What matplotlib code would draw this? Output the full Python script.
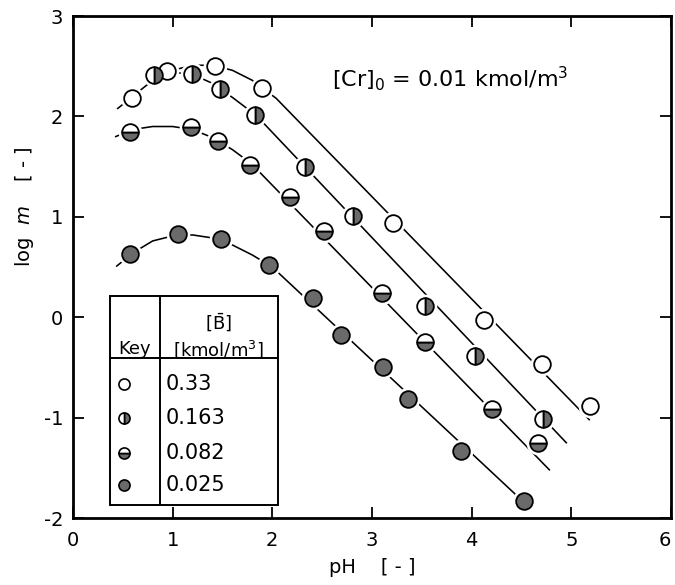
import matplotlib
matplotlib.use('Agg')
import matplotlib.pyplot as plt
from matplotlib.patches import Rectangle

plt.rcParams['font.family'] = ['DejaVu Sans']
plt.rcParams['axes.unicode_minus'] = False

# measured points: pH and log m for each [B] concentration
ph_033 = [0.59, 0.94, 1.43, 1.90, 3.21, 4.12, 4.71, 5.19]
lm_033 = [2.18, 2.45, 2.50, 2.28, 0.94, -0.03, -0.47, -0.88]

ph_0163 = [0.81, 1.19, 1.48, 1.83, 2.33, 2.81, 3.53, 4.03, 4.72]
lm_0163 = [2.41, 2.42, 2.27, 2.01, 1.50, 1.01, 0.11, -0.39, -1.01]

ph_0082 = [0.57, 1.18, 1.46, 1.78, 2.18, 2.52, 3.10, 3.53, 4.20, 4.67]
lm_0082 = [1.85, 1.90, 1.76, 1.52, 1.20, 0.86, 0.24, -0.25, -0.91, -1.25]

ph_0025 = [0.57, 1.05, 1.49, 1.97, 2.41, 2.69, 3.11, 3.36, 3.89, 4.53]
lm_0025 = [0.63, 0.83, 0.78, 0.52, 0.19, -0.18, -0.50, -0.81, -1.33, -1.83]

# fitted curves
fit_033_ph = [0.45, 0.6, 0.8, 1.0, 1.2, 1.4, 1.6, 1.8, 2.04, 5.18]
fit_033_lm = [2.08, 2.20, 2.36, 2.46, 2.51, 2.51, 2.46, 2.36, 2.18, -1.02]
fit_0163_ph = [0.75, 1.0, 1.2, 1.4, 1.6, 1.84, 4.95]
fit_0163_lm = [2.38, 2.44, 2.42, 2.33, 2.19, 2.01, -1.25]
fit_0082_ph = [0.43, 0.6, 0.8, 1.0, 1.2, 1.4, 1.6, 1.79, 4.78]
fit_0082_lm = [1.80, 1.87, 1.90, 1.90, 1.87, 1.79, 1.67, 1.53, -1.52]
fit_0025_ph = [0.44, 0.6, 0.8, 1.0, 1.2, 1.4, 1.6, 1.8, 2.0, 4.5]
fit_0025_lm = [0.51, 0.64, 0.76, 0.81, 0.82, 0.79, 0.72, 0.62, 0.50, -1.82]

key_labels = ['0.33', '0.163', '0.082', '0.025']
fill_styles = ['none', 'right', 'bottom', 'full']
gray = '#6a6a6a'

fig = plt.figure(figsize=(6.75, 5.85), dpi=100)
ax = fig.add_axes([0.108, 0.1145, 0.886, 0.858])

series = [
    (ph_033, lm_033, fit_033_ph, fit_033_lm),
    (ph_0163, lm_0163, fit_0163_ph, fit_0163_lm),
    (ph_0082, lm_0082, fit_0082_ph, fit_0082_lm),
    (ph_0025, lm_0025, fit_0025_ph, fit_0025_lm),
]

for (px, py, fx, fy), fs in zip(series, fill_styles):
    ax.plot(fx, fy, color='black', lw=1.15, zorder=2)
    # white halo so lines break around the symbols
    ax.plot(px, py, 'o', ms=17, color='white', mec='none', zorder=3)
    if fs == 'none':
        ax.plot(px, py, 'o', ms=12, mfc='white', mec='black', mew=1.3, zorder=4)
    else:
        ax.plot(px, py, 'o', ms=12, mfc=gray, mfcalt='white', fillstyle=fs,
                mec='black', mew=1.3, zorder=4)

# key table
ax.add_patch(Rectangle((0.37, -1.87), 1.69, 2.08, fill=True, fc='white',
                       ec='black', lw=1.4, zorder=5))
ax.plot([0.87, 0.87], [-1.87, 0.21], color='black', lw=1.4, zorder=6)
ax.plot([0.37, 2.06], [-0.41, -0.41], color='black', lw=1.4, zorder=6)
ax.text(0.62, -0.32, 'Key', ha='center', va='center', fontsize=13, zorder=7)
ax.text(1.46, -0.06, r'[$\mathrm{\bar{B}}$]', ha='center', va='center', fontsize=13, zorder=7)
ax.text(1.46, -0.32, r'[kmol/m$^3$]', ha='center', va='center', fontsize=13, zorder=7)

key_y = [-0.66, -1.00, -1.35, -1.67]
for lab, fs, yy in zip(key_labels, fill_styles, key_y):
    if fs == 'none':
        ax.plot(0.51, yy, 'o', ms=8, mfc='white', mec='black', mew=1.2, zorder=7)
    else:
        ax.plot(0.51, yy, 'o', ms=8, mfc=gray, mfcalt='white', fillstyle=fs,
                mec='black', mew=1.2, zorder=7)
    ax.text(0.93, yy, lab, ha='left', va='center', fontsize=15, zorder=7)

ax.text(2.6, 2.38, r'[Cr]$_0$ = 0.01 kmol/m$^3$', ha='left', va='center', fontsize=16)

ax.set_xlim(0, 6)
ax.set_ylim(-2, 3)
ax.set_xticks(range(0, 7))
ax.set_yticks(range(-2, 4))
ax.tick_params(direction='in', length=8, width=1.3, top=True, right=True,
               labelsize=14)
ax.tick_params(axis='x', pad=9)
ax.tick_params(axis='y', pad=7)
for sp in ax.spines.values():
    sp.set_linewidth(2.0)

# keep the "6" inside the figure edge
ax.get_xticklabels()[-1].set_horizontalalignment('right')

ax.set_xlabel('pH    [ - ]', fontsize=14)
ax.set_ylabel(r'log  $\mathit{m}$    [ - ]', fontsize=14)
ax.xaxis.set_label_coords(0.5, -0.08)
ax.yaxis.set_label_coords(-0.062, 0.62)

plt.savefig('out.png', dpi=100)
plt.close()
